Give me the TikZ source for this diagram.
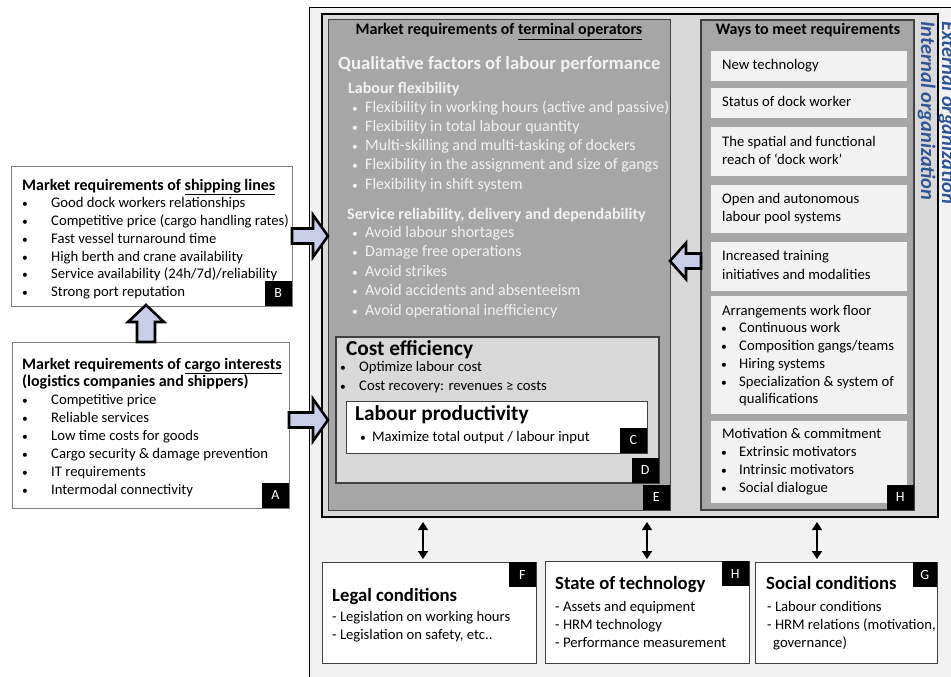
\documentclass[tikz,border=0pt]{standalone}
\usepackage{fontspec}
\setmainfont{Carlito}
\usetikzlibrary{calc,arrows.meta}
\definecolor{outerfill}{HTML}{F2F2F2}
\definecolor{innerfill}{HTML}{D9D9D9}
\definecolor{darkfill}{HTML}{A6A6A6}
\definecolor{arrowfill}{HTML}{C9CDE8}
\definecolor{orgblue}{HTML}{2F5597}
\definecolor{lighttext}{HTML}{F2F2F2}
\definecolor{edgegray}{HTML}{404040}
\definecolor{midgray}{HTML}{7F7F7F}
\newcommand\bul{{\fontsize{11.5}{13}\selectfont •}}
\begin{document}
\begin{tikzpicture}[x=1pt,y=-1pt,
  box/.style={inner sep=0pt, outer sep=0pt, anchor=north west},
  t15/.style={inner sep=0pt, anchor=west, text height=11pt, text depth=3.7pt, font=\fontsize{14.67}{17.6}\selectfont},
  t16/.style={inner sep=0pt, anchor=west, text height=12pt, text depth=4pt, font=\fontsize{16}{19.2}\selectfont},
  b16/.style={t16, font=\fontsize{16}{19.2}\selectfont\bfseries},
  b19/.style={inner sep=0pt, anchor=west, text height=14pt, text depth=4.7pt, font=\fontsize{18.7}{22.4}\selectfont\bfseries},
  b21/.style={inner sep=0pt, anchor=west, text height=16pt, text depth=5.3pt, font=\fontsize{21.3}{25.6}\selectfont\bfseries},
  lbl/.style={fill=black, text=white, inner sep=0pt, minimum width=27pt, minimum height=25pt, font=\fontsize{14}{16}\selectfont},
  blockarrow/.style={draw=black, fill=arrowfill, line width=2.6pt, line join=miter},
  dbl/.style={{Triangle[length=8pt,width=10pt]}-{Triangle[length=8pt,width=10pt]}, line width=1.6pt},
  org/.style={rotate=-90, anchor=base west, inner sep=0pt, text=orgblue, font=\fontsize{20.5}{24}\selectfont\bfseries\itshape}
]
\useasboundingbox (0,0) rectangle (951,677);
\clip (0,0) rectangle (951,677);
\fill[white] (0,0) rectangle (951,677);

% ---------- outer / inner organisation frames ----------
\node[box, draw=black, line width=1pt, fill=outerfill, minimum width=700pt, minimum height=700pt] (outer) at (309,8) {};
\node[box, draw=black, line width=1.2pt, fill=innerfill, minimum width=616pt, minimum height=503pt] (inner) at (322,14) {};
\node[org] (intorg) at (921,21) {Internal organization};
\node[org] (extorg) at (942,21) {External organization};

% ---------- terminal operators (E) ----------
\node[box, draw=edgegray, line width=1pt, fill=darkfill, minimum width=342pt, minimum height=490pt] (E) at (328,20) {};
\node[b16, anchor=center] (Ehead) at (499,31) {Market requirements of \underline{terminal operators}};
\node[b19, text=lighttext] (qual) at (338,65) {Qualitative factors of labour performance};
\node[b16, text=lighttext] (lflex) at (348,89) {Labour flexibility};
\foreach \t [count=\i] in {Flexibility in working hours (active and passive), Flexibility in total labour quantity, Multi-skilling and multi-tasking of dockers, Flexibility in the assignment and size of gangs, Flexibility in shift system}{
  \node[t16, text=lighttext] (lfb\i) at (352,{108+19.3*(\i-1)}) {\bul};
  \node[t16, text=lighttext] (lf\i) at (365,{108+19.3*(\i-1)}) {\t};
}
\node[b16, text=lighttext] (serv) at (347,215) {Service reliability, delivery and dependability};
\foreach \t [count=\i] in {Avoid labour shortages, Damage free operations, Avoid strikes, Avoid accidents and absenteeism, Avoid operational inefficiency}{
  \node[t16, text=lighttext] (svb\i) at (352,{233+19.5*(\i-1)}) {\bul};
  \node[t16, text=lighttext] (sv\i) at (365,{233+19.5*(\i-1)}) {\t};
}

% ---------- cost efficiency (D) ----------
\node[box, draw=edgegray, line width=1.2pt, fill=innerfill, minimum width=323pt, minimum height=146pt] (D) at (336,337) {};
\node[b21] (cost) at (346,350) {Cost efficiency};
\node[t15] (cb1) at (340,368) {\bul};
\node[t15] (c1) at (359,368) {Optimize labour cost};
\node[t15] (cb2) at (340,387) {\bul};
\node[t15] (c2) at (359,387) {Cost recovery: revenues ≥ costs};

% ---------- labour productivity (C) ----------
\node[box, draw=edgegray, line width=1pt, fill=white, minimum width=301pt, minimum height=52pt] (C) at (346,401) {};
\node[b21] (prod) at (355,415) {Labour productivity};
\node[t15] (pb1) at (360,438) {\bul};
\node[t15] (p1) at (372,438) {Maximize total output / labour input};

\node[lbl, anchor=south east] (Clbl) at (C.south east) {C};
\node[lbl, anchor=south east] (Dlbl) at (D.south east) {D};
\node[lbl, anchor=south east] (Elbl) at (E.south east) {E};

% ---------- ways to meet requirements (H) ----------
\node[box, draw=edgegray, line width=1.2pt, fill=darkfill, minimum width=213pt, minimum height=490pt] (W) at (701,20) {};
\node[b16, anchor=center] (Whead) at (808,31) {Ways to meet requirements};
\node[box, fill=outerfill, minimum width=196pt, minimum height=30pt] (w1) at (711,51) {};
\node[box, fill=outerfill, minimum width=196pt, minimum height=30pt] (w2) at (711,88) {};
\node[box, fill=outerfill, minimum width=196pt, minimum height=49pt] (w3) at (711,127) {};
\node[box, fill=outerfill, minimum width=196pt, minimum height=48pt] (w4) at (711,185) {};
\node[box, fill=outerfill, minimum width=196pt, minimum height=49pt] (w5) at (711,242) {};
\node[box, fill=outerfill, minimum width=196pt, minimum height=118pt] (w6) at (711,296) {};
\node[box, fill=outerfill, minimum width=196pt, minimum height=82pt] (w7) at (711,421) {};
\node[t15] (w1t) at (722,66) {New technology};
\node[t15] (w2t) at (722,103) {Status of dock worker};
\node[t15] (w3t) at (722,143) {The spatial and functional};
\node[t15] (w3u) at (722,161) {reach of ‘dock work’};
\node[t15] (w4t) at (722,200) {Open and autonomous};
\node[t15] (w4u) at (722,218) {labour pool systems};
\node[t15] (w5t) at (722,257) {Increased training};
\node[t15] (w5u) at (722,276) {initiatives and modalities};
\node[t15] (w6t) at (722,312) {Arrangements work floor};
\foreach \t [count=\i] in {Continuous work, Composition gangs/teams, Hiring systems, Specialization \& system of}{
  \node[t15] (w6b\i) at (721,{329+18*(\i-1)}) {\bul};
  \node[t15] (w6i\i) at (739,{329+18*(\i-1)}) {\t};
}
\node[t15] (w6q) at (739,400) {qualifications};
\node[t15] (w7t) at (722,435) {Motivation \& commitment};
\foreach \t [count=\i] in {Extrinsic motivators, Intrinsic motivators, Social dialogue}{
  \node[t15] (w7b\i) at (721,{453+17.7*(\i-1)}) {\bul};
  \node[t15] (w7i\i) at (739,{453+17.7*(\i-1)}) {\t};
}
\node[lbl, anchor=south east] (Hlbl) at (W.south east) {H};

% ---------- shipping lines (B) ----------
\node[box, draw=midgray, line width=1pt, fill=white, minimum width=281pt, minimum height=140pt] (B) at (11,166) {};
\node[b16] (Bhead) at (22,186) {Market requirements of \underline{shipping lines}};
\foreach \t [count=\i] in {Good dock workers relationships, Competitive price (cargo handling rates), Fast vessel turnaround time, High berth and crane availability, Service availability (24h/7d)/reliability, Strong port reputation}{
  \node[t15] (bb\i) at (22,{204+17.8*(\i-1)}) {\bul};
  \node[t15] (bi\i) at (51,{204+17.8*(\i-1)}) {\t};
}
\node[lbl, anchor=south east] (Blbl) at (B.south east) {B};

% ---------- cargo interests (A) ----------
\node[box, draw=midgray, line width=1pt, fill=white, minimum width=277pt, minimum height=166pt] (A) at (12,342) {};
\node[b16] (Ahead) at (22,365) {Market requirements of \underline{cargo interests}};
\node[b16] (Ahead2) at (22,382) {(logistics companies and shippers)};
\foreach \t [count=\i] in {Competitive price, Reliable services, Low time costs for goods, Cargo security \& damage prevention, IT requirements, Intermodal connectivity}{
  \node[t15] (ab\i) at (22,{401+18*(\i-1)}) {\bul};
  \node[t15] (ai\i) at (51,{401+18*(\i-1)}) {\t};
}
\node[lbl, anchor=south east] (Albl) at (A.south east) {A};

% ---------- external conditions ----------
\node[box, draw=edgegray, line width=1pt, fill=white, minimum width=214pt, minimum height=101pt] (F) at (322,562) {};
\node[b19] (Fhead) at (332,597) {Legal conditions};
\node[t15] (f1) at (332,618) {- Legislation on working hours};
\node[t15] (f2) at (332,636) {- Legislation on safety, etc..};
\node[lbl, anchor=north east] (Flbl) at (F.north east) {F};

\node[box, draw=edgegray, line width=1pt, fill=white, minimum width=204pt, minimum height=102pt] (T) at (545,561) {};
\node[b19] (Thead) at (555,585) {State of technology};
\node[t15] (t1) at (555,608) {- Assets and equipment};
\node[t15] (t2) at (555,626) {- HRM technology};
\node[t15] (t3) at (555,644) {- Performance measurement};
\node[lbl, anchor=north east] (Tlbl) at (T.north east) {H};

\node[box, draw=edgegray, line width=1pt, fill=white, minimum width=182pt, minimum height=101pt] (G) at (755,562) {};
\node[b19] (Ghead) at (766,585) {Social conditions};
\node[t15] (g1) at (767,608) {- Labour conditions};
\node[t15] (g2) at (767,626) {- HRM relations (motivation,};
\node[t15] (g3) at (773,644) {governance)};
\node[lbl, anchor=north east, minimum width=24pt] (Glbl) at (G.north east) {G};

% ---------- double arrows ----------
\coordinate (fx) at (423,0);
\coordinate (tx) at (647,0);
\coordinate (gx) at (817,0);
\draw[dbl] ($(inner.south -| fx)+(0,5)$) -- ($(F.north -| fx)+(0,-3)$);
\draw[dbl] ($(inner.south -| tx)+(0,5)$) -- ($(T.north -| tx)+(0,-2)$);
\draw[dbl] ($(inner.south -| gx)+(0,5)$) -- ($(G.north -| gx)+(0,-3)$);

% ---------- block arrows ----------
% B -> E
\draw[blockarrow] let \p1=(B.east), \p2=(E.west) in
  (\x1,\y1+7.5pt) -- (\x2-15pt,\y1+7.5pt) -- (\x2-15pt,\y1+21pt) -- (\x2,\y1) --
  (\x2-15pt,\y1-21pt) -- (\x2-15pt,\y1-7.5pt) -- (\x1,\y1-7.5pt) -- cycle;
% A -> E
\draw[blockarrow] let \p1=($(A.east)+(0,-5)$), \p2=(E.west) in
  (\x1,\y1+7.5pt) -- (\x2-15pt,\y1+7.5pt) -- (\x2-15pt,\y1+21pt) -- (\x2,\y1) --
  (\x2-15pt,\y1-21pt) -- (\x2-15pt,\y1-7.5pt) -- (\x1,\y1-7.5pt) -- cycle;
% H -> E
\draw[blockarrow] let \p1=($(W.west)+(0,-4)$), \p2=(E.east) in
  (\x1,\y1+7.5pt) -- (\x2+16pt,\y1+7.5pt) -- (\x2+16pt,\y1+18pt) -- (\x2,\y1) --
  (\x2+16pt,\y1-18pt) -- (\x2+16pt,\y1-7.5pt) -- (\x1,\y1-7.5pt) -- cycle;
% A -> B
\draw[blockarrow] let \p1=($(A.north)+(-4.5,0)$), \p2=(B.south) in
  (\x1-9pt,\y1) -- (\x1-9pt,\y2-16pt) -- (\x1-18pt,\y2-16pt) -- (\x1,\y2+1pt) --
  (\x1+18pt,\y2-16pt) -- (\x1+9pt,\y2-16pt) -- (\x1+9pt,\y1) -- cycle;
\end{tikzpicture}
\end{document}
